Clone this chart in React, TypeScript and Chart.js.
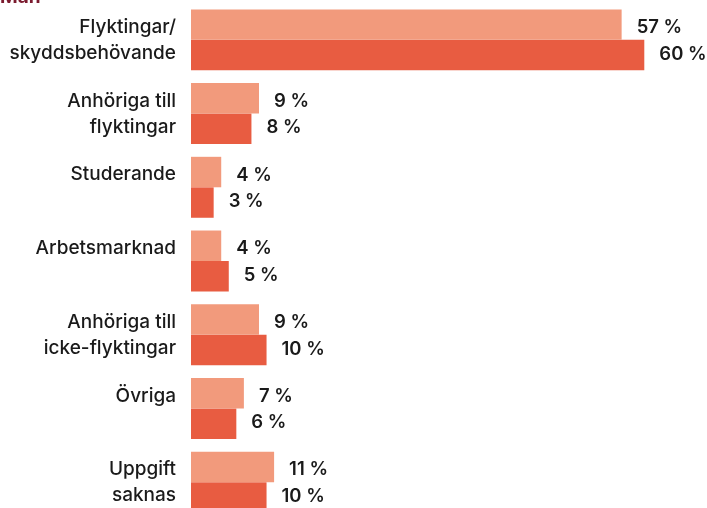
import { useEffect, useRef } from "react";
import { Chart, registerables } from "chart.js";

Chart.register(...registerables);

const title = "Män";
const categories: string[][] = [
  ["Flyktingar/", "skyddsbehövande"],
  ["Anhöriga till", "flyktingar"],
  ["Studerande", ""],
  ["Arbetsmarknad", ""],
  ["Anhöriga till", "icke-flyktingar"],
  ["Övriga", ""],
  ["Uppgift", "saknas"],
];
const seriesNames = ["Serie 1", "Serie 2"];
const seriesA = [57, 9, 4, 4, 9, 7, 11];
const seriesB = [60, 8, 3, 5, 10, 6, 10];

const LIGHT = "#F29A7C";
const DARK = "#E85C41";
const TEXT = "#1a1a1a";

const valueLabels = {
  id: "valueLabels",
  afterDraw(chart: any) {
    const ctx = chart.ctx;
    ctx.save();
    ctx.font = "600 18.5px Inter";
    ctx.fillStyle = TEXT;
    ctx.textAlign = "left";
    ctx.textBaseline = "middle";
    chart.data.datasets.forEach((ds: any, di: number) => {
      const meta = chart.getDatasetMeta(di);
      meta.data.forEach((el: any, i: number) => {
        const v = ds.data[i];
        ctx.fillText(`${v} %`, el.x + 15, el.y + (di === 0 ? 3 : -1));
      });
    });
    ctx.font = "bold 19px Inter";
    ctx.fillStyle = "#7B1B2F";
    ctx.textBaseline = "alphabetic";
    ctx.fillText(title, 0, 18.5);
    ctx.restore();
  },
};

export default function App() {
  const ref = useRef<HTMLCanvasElement>(null);
  useEffect(() => {
    const chart = new Chart(ref.current!, {
      type: "bar",
      data: {
        labels: categories as any,
        datasets: [
          {
            label: seriesNames[0],
            data: seriesA,
            backgroundColor: LIGHT,
            barPercentage: 1,
            categoryPercentage: 0.827,
          },
          {
            label: seriesNames[1],
            data: seriesB,
            backgroundColor: DARK,
            barPercentage: 1,
            categoryPercentage: 0.827,
          },
        ],
      },
      options: {
        indexAxis: "y",
        responsive: false,
        animation: false,
        layout: { padding: { top: 19, left: 0, right: 0, bottom: 0 } },
        plugins: {
          legend: { display: false },
          tooltip: { enabled: false },
          title: { display: false },
        },
        scales: {
          x: { display: false, min: 0, max: 68.3 },
          y: {
            grid: { display: false },
            border: { display: false },
            ticks: {
              color: TEXT,
              autoSkip: false,
              padding: 7,
              labelOffset: 0.5,
              font: { family: "Inter", size: 19, weight: 500 as any, lineHeight: 1.37 },
            },
            afterFit(scale: any) {
              scale.width = 191;
              scale.paddingTop = 0;
              scale.paddingBottom = 0;
            },
          },
        },
      },
      plugins: [valueLabels],
    });
    return () => chart.destroy();
  }, []);
  return (
    <div style={{ position: "fixed", left: 0, top: -16, width: 707, height: 535, overflow: "hidden" }}>
      <canvas ref={ref} width={707} height={535} style={{ display: "block", width: 707, height: 535 }} />
    </div>
  );
}
